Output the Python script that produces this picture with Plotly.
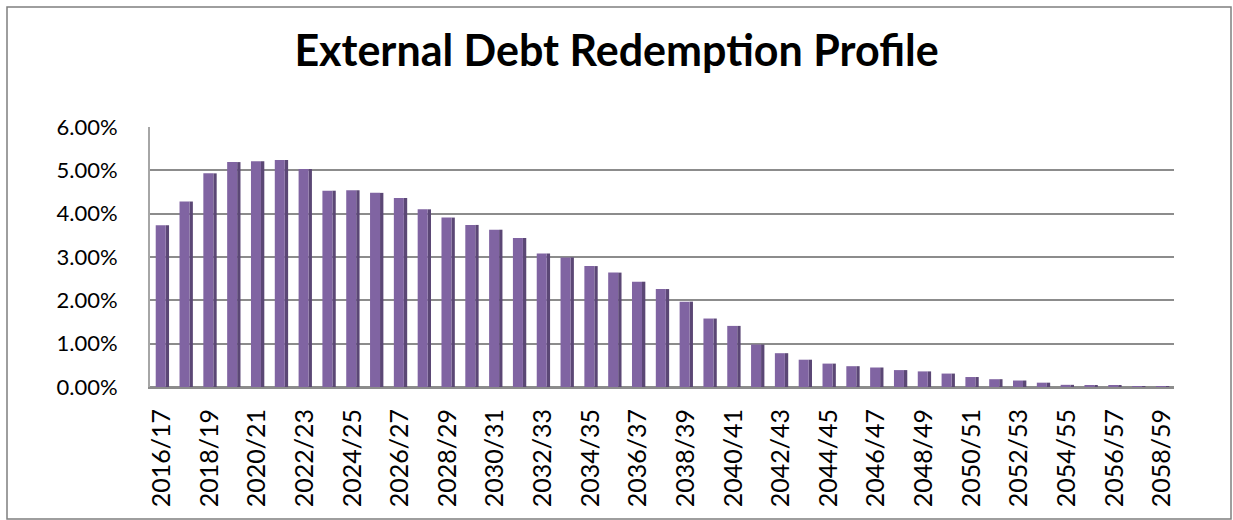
import plotly.graph_objects as go

# Fiscal years of the redemption schedule
years = [f"{y}/{str(y + 1)[-2:]}" for y in range(2016, 2059)]

# Share of external debt redeemed in each year (%)
redemption_pct = [
    3.73, 4.28, 4.93, 5.19, 5.21, 5.24, 5.03, 4.53, 4.54, 4.48,
    4.36, 4.10, 3.91, 3.74, 3.63, 3.44, 3.08, 2.99, 2.79, 2.64,
    2.43, 2.26, 1.97, 1.58, 1.41, 0.98, 0.78, 0.63, 0.54, 0.48,
    0.45, 0.39, 0.36, 0.31, 0.23, 0.18, 0.15, 0.10, 0.05, 0.03,
    0.03, 0.02, 0.02,
]

y_ticks = [0, 1, 2, 3, 4, 5, 6]
y_tick_text = [f"{v:.2f}%" for v in y_ticks]

FONT = "Lato"
FRONT = "#8064A2"
SIDE = "#5B4775"
GRID = "#8C8C8C"

fig = go.Figure()

# shaded side face of each column
fig.add_trace(go.Bar(
    x=years, y=redemption_pct,
    width=0.14, offset=0.16,
    marker=dict(color=SIDE, line=dict(width=0)),
    hoverinfo="skip", showlegend=False,
))
# front face of each column
fig.add_trace(go.Bar(
    x=years, y=redemption_pct,
    width=0.42, offset=-0.26,
    marker=dict(color=FRONT, line=dict(width=0)),
    showlegend=False,
))

# geometry of the plot area in pixels
W, H = 1233, 520
ML, MR, MT, MB = 150, 59, 127, 133
PW, PH = W - ML - MR, H - MT - MB


def px_x(px):
    return (px - ML) / PW


def px_y(py):
    return (H - MB - py) / PH


fig.update_layout(
    width=W, height=H,
    margin=dict(l=ML, r=MR, t=MT, b=MB),
    paper_bgcolor="white",
    plot_bgcolor="white",
    barmode="overlay",
    font=dict(family=FONT, color="black"),
    title=dict(
        text="<b>External Debt Redemption Profile</b>",
        font=dict(family=FONT, size=43, color="black"),
        x=0.5, xanchor="center",
        y=1 - 51 / H, yanchor="middle", yref="container",
    ),
    xaxis=dict(
        type="category",
        tickmode="array",
        tickvals=years[::2],
        ticktext=years[::2],
        tickangle=-90,
        tickfont=dict(family=FONT, size=25),
        showgrid=False,
        showline=True, linecolor=GRID, linewidth=2,
        ticks="", ticklabelstandoff=10,
        range=[-0.5, len(years) - 0.5],
    ),
    yaxis=dict(
        range=[0, 6],
        tickmode="array",
        tickvals=y_ticks,
        ticktext=y_tick_text,
        tickfont=dict(family=FONT, size=22),
        showgrid=True, gridcolor=GRID, gridwidth=2,
        zeroline=True, zerolinecolor=GRID, zerolinewidth=2,
        showline=True, linecolor="#A6A6A6", linewidth=2,
        ticks="", ticklabelstandoff=26,
    ),
    shapes=[
        # outer chart frame
        dict(type="rect", xref="paper", yref="paper",
             x0=px_x(7), x1=px_x(1231), y0=px_y(519), y1=px_y(7),
             line=dict(color="#7F7F7F", width=1.5), layer="below"),
    ],
)

fig.write_html("out.html")
